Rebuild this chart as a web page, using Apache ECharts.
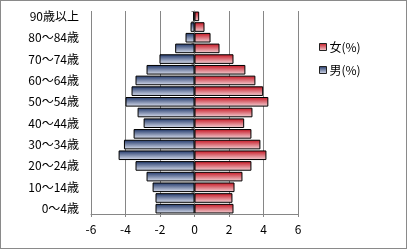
<!DOCTYPE html>
<html><head><meta charset="utf-8">
<script src="https://cdn.jsdelivr.net/npm/echarts@6/dist/echarts.min.js"></script>
<style>html,body{margin:0;padding:0;background:#fff}#c{width:407px;height:249px;box-sizing:border-box;border:1px solid #8a8a8a}</style>
</head><body><div id="c"></div>
<script>
var categories = ['0～4歳','5～9歳','10～14歳','15～19歳','20～24歳','25～29歳','30～34歳','35～39歳','40～44歳','45～49歳','50～54歳','55～59歳','60～64歳','65～69歳','70～74歳','75～79歳','80～84歳','85～89歳','90歳以上'];
var female = [2.26,2.20,2.32,2.78,3.30,4.17,3.82,3.30,2.88,3.36,4.28,3.98,3.53,2.95,2.26,1.45,0.93,0.58,0.27];
var male = [-2.26,-2.26,-2.43,-2.78,-3.42,-4.40,-4.09,-3.53,-2.95,-3.30,-4.00,-3.65,-3.42,-2.78,-2.03,-1.12,-0.52,-0.23,-0.08];
var xTicks = {min:-6, max:6, interval:2};
var font = '"Noto Sans CJK JP", sans-serif';
var chart = echarts.init(document.getElementById('c'), null, {renderer:'canvas'});
function grad(a,b){return new echarts.graphic.LinearGradient(0,0,0,1,[{offset:0,color:a},{offset:1,color:b}]);}
chart.setOption({
  animation:false,
  grid:{left:90,right:108,top:10,bottom:34,containLabel:false},
  legend:{orient:'vertical',left:313,top:35,itemWidth:7,itemHeight:7,itemGap:11,icon:'rect',
    itemStyle:{borderColor:'#222',borderWidth:1},
    textStyle:{fontFamily:font,fontSize:12,color:'#000',padding:[0,0,0,-2]},
    data:['女(%)','男(%)']},
  xAxis:{type:'value',min:xTicks.min,max:xTicks.max,interval:xTicks.interval,
    axisLine:{show:true,onZero:false,lineStyle:{color:'#868686'}},
    axisTick:{show:true,length:3,lineStyle:{color:'#868686'}},
    axisLabel:{fontFamily:font,fontSize:12,color:'#000',margin:9},
    splitLine:{show:true,lineStyle:{color:'#868686',width:1}}},
  yAxis:[{type:'category',data:categories,position:'left',
    axisLine:{show:false,onZero:false},axisTick:{show:false},
    axisLabel:{interval:1,fontFamily:font,fontSize:12,color:'#000',margin:12}},
   {type:'category',data:categories,position:'left',
    axisLine:{show:true,onZero:true,lineStyle:{color:'#868686'}},
    axisTick:{show:true,length:3,lineStyle:{color:'#868686'}},
    axisLabel:{show:false}}],
  series:[
   {name:'女(%)',type:'bar',data:female,barCategoryGap:'10%',barGap:'-100%',yAxisIndex:0,
    itemStyle:{color:grad('#c4121f','#f4d6da'),borderColor:'#000',borderWidth:1}},
   {name:'男(%)',type:'bar',data:male,barCategoryGap:'10%',barGap:'-100%',yAxisIndex:0,
    itemStyle:{color:grad('#1c3366','#dde2f0'),borderColor:'#000',borderWidth:1}}
  ]
});
</script></body></html>
